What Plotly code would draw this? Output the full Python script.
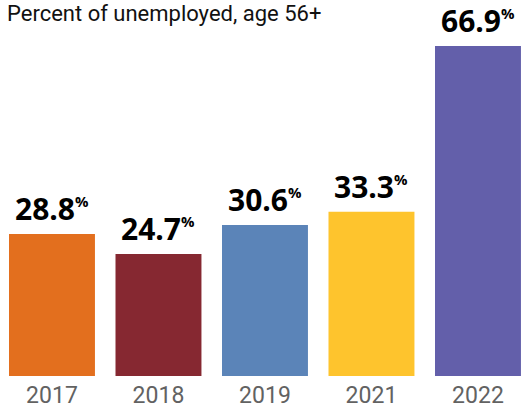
import plotly.graph_objects as go

# Share of unemployed people aged 56 and over, by year
years = ["2017", "2018", "2019", "2021", "2022"]
shares = [28.8, 24.7, 30.6, 33.3, 66.9]
bar_colors = ["#E36F1E", "#862831", "#5B84B8", "#FEC42D", "#635FAA"]

fig = go.Figure(
    go.Bar(
        x=years,
        y=shares,
        marker=dict(color=bar_colors, line=dict(width=0)),
        width=0.807,
        hoverinfo="skip",
    )
)

# Value labels above each bar with a small superscript percent sign
for i, v in enumerate(shares):
    fig.add_annotation(
        x=i,
        y=v,
        xref="x",
        yref="y",
        text=f"{v:.1f}<sup><span style='font-size:15px'>%</span></sup>",
        showarrow=False,
        yanchor="bottom",
        yshift=3,
        font=dict(family="Open Sans", size=30, color="#000000", weight="bold"),
    )

fig.add_annotation(
    text="Percent of unemployed, age 56+",
    xref="paper", yref="paper",
    x=0.0, y=1.0,
    xanchor="left", yanchor="top",
    xshift=5, yshift=1,
    showarrow=False,
    font=dict(family="Roboto", size=22, color="#111111"),
)

fig.update_layout(
    width=521,
    height=409,
    margin=dict(l=0, r=0, t=0, b=27),
    paper_bgcolor="white",
    plot_bgcolor="white",
    showlegend=False,
    xaxis=dict(
        type="category",
        range=[-0.488, 4.404],
        showgrid=False,
        zeroline=False,
        showline=False,
        ticks="",
        ticklabelstandoff=3,
        tickfont=dict(family="Roboto", size=23, color="#626262"),
    ),
    yaxis=dict(
        range=[0, 76.2],
        visible=False,
    ),
)

fig.write_html("out.html")
